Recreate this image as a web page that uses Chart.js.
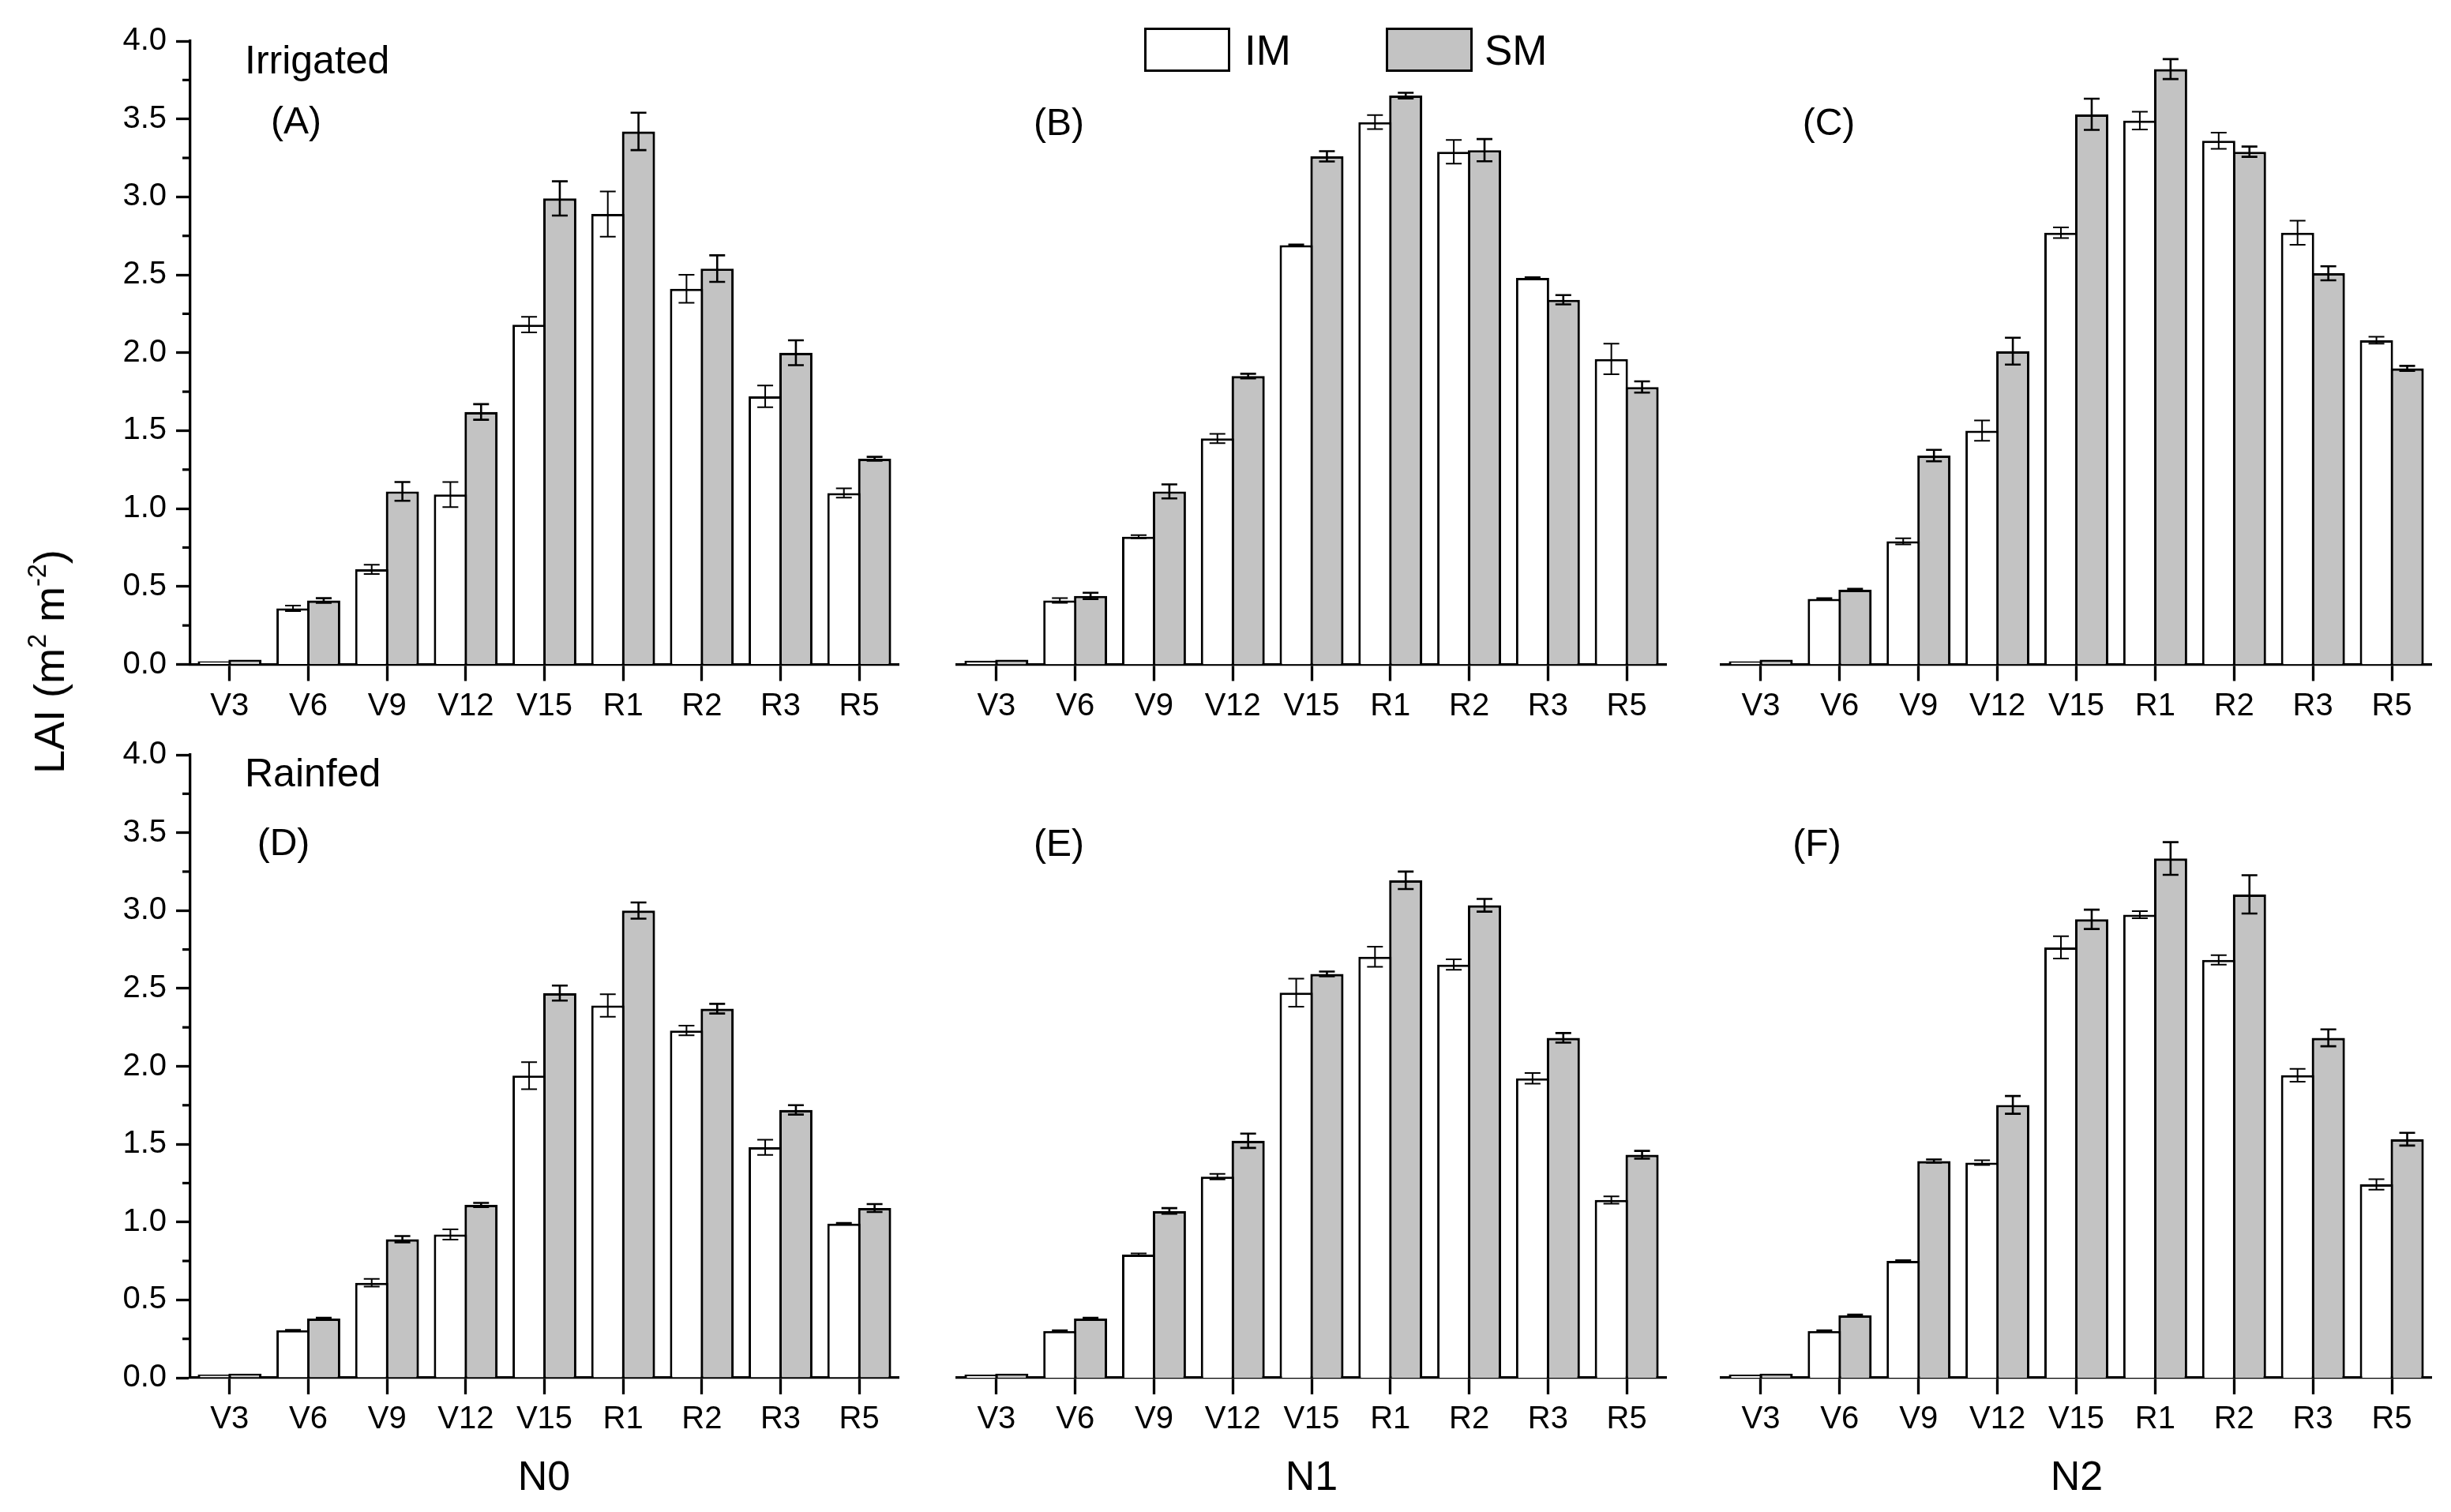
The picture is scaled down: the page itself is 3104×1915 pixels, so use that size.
<!DOCTYPE html>
<html><head><meta charset="utf-8">
<script src="https://cdn.jsdelivr.net/npm/chart.js@4.4.1/dist/chart.umd.min.js"></script>
<style>
html,body{margin:0;padding:0;background:#fff;}
#wrap{position:relative;width:3104px;height:1915px;background:#fff;overflow:hidden;font-family:"Liberation Sans",Arial,sans-serif;color:#000;}
canvas{position:absolute;}
.t{position:absolute;line-height:1;white-space:nowrap;}
.c{transform:translate(-50%,-50%);}
.l{transform:translateY(-50%);}
.box{position:absolute;box-sizing:border-box;border:3px solid #000;}
.sup{font-size:0.6em;position:relative;top:-0.7em;}
</style></head><body><div id="wrap">
<canvas id="cA" width="1160" height="920" style="left:0;top:0"></canvas>
<canvas id="cB" width="990" height="920" style="left:1160px;top:0"></canvas>
<canvas id="cC" width="954" height="920" style="left:2150px;top:0"></canvas>
<canvas id="cD" width="1160" height="920" style="left:0;top:920px"></canvas>
<canvas id="cE" width="990" height="920" style="left:1160px;top:920px"></canvas>
<canvas id="cF" width="954" height="920" style="left:2150px;top:920px"></canvas>

<div class="t l" style="left:310px;top:76px;font-size:50px">Irrigated</div>
<div class="t l" style="left:310px;top:979px;font-size:50px">Rainfed</div>
<div class="t c" style="left:375px;top:153px;font-size:48px">(A)</div>
<div class="t c" style="left:1341px;top:155px;font-size:48px">(B)</div>
<div class="t c" style="left:2316px;top:155px;font-size:48px">(C)</div>
<div class="t c" style="left:359px;top:1067px;font-size:48px">(D)</div>
<div class="t c" style="left:1341px;top:1068px;font-size:48px">(E)</div>
<div class="t c" style="left:2301px;top:1068px;font-size:48px">(F)</div>
<div class="t c" style="left:689px;top:1869px;font-size:52px">N0</div>
<div class="t c" style="left:1661px;top:1869px;font-size:52px">N1</div>
<div class="t c" style="left:2630px;top:1869px;font-size:52px">N2</div>
<div class="box" style="left:1449px;top:35px;width:109px;height:56px;background:#fff"></div>
<div class="t l" style="left:1576px;top:63px;font-size:53px">IM</div>
<div class="box" style="left:1755px;top:35px;width:110px;height:56px;background:#c3c3c3"></div>
<div class="t l" style="left:1880px;top:63px;font-size:53px">SM</div>
<div class="t" style="left:62px;top:838px;font-size:54px;transform:translate(-50%,-50%) rotate(-90deg)">LAI (m<span class="sup">2</span> m<span class="sup">-2</span>)</div>
</div>
<script>
const stages = ['V3','V6','V9','V12','V15','R1','R2','R3','R5'];
const yMinorTicks = [0.25,0.75,1.25,1.75,2.25,2.75,3.25,3.75];

// Irrigated N0 (A)
const imA = [0.02,0.36,0.61,1.09,2.18,2.89,2.41,1.72,1.10];
const smA = [0.03,0.41,1.11,1.62,2.99,3.42,2.54,2.00,1.32];
const imAErr = [0,0.018,0.03,0.08,0.05,0.145,0.09,0.07,0.03];
const smAErr = [0,0.015,0.06,0.05,0.11,0.12,0.085,0.08,0.012];
// Irrigated N1 (B)
const imB = [0.024,0.41,0.82,1.45,2.69,3.48,3.29,2.48,1.96];
const smB = [0.03,0.44,1.11,1.85,3.26,3.65,3.30,2.34,1.78];
const imBErr = [0,0.015,0.01,0.03,0.005,0.045,0.076,0.005,0.098];
const smBErr = [0,0.02,0.045,0.015,0.033,0.018,0.071,0.03,0.036];
// Irrigated N2 (C)
const imC = [0.02,0.42,0.79,1.50,2.77,3.49,3.36,2.77,2.08];
const smC = [0.03,0.48,1.34,2.01,3.53,3.82,3.29,2.51,1.90];
const imCErr = [0,0.005,0.02,0.065,0.034,0.057,0.052,0.077,0.022];
const smCErr = [0,0.005,0.037,0.086,0.10,0.064,0.033,0.045,0.016];
// Rainfed N0 (D)
const imD = [0.02,0.305,0.61,0.92,1.94,2.39,2.23,1.48,0.99];
const smD = [0.026,0.38,0.89,1.11,2.47,3.00,2.37,1.72,1.09];
const imDErr = [0,0.003,0.025,0.033,0.087,0.072,0.031,0.049,0.005];
const smDErr = [0,0.005,0.02,0.013,0.048,0.052,0.031,0.03,0.025];
// Rainfed N1 (E)
const imE = [0.02,0.30,0.79,1.29,2.47,2.70,2.65,1.92,1.14];
const smE = [0.026,0.38,1.07,1.52,2.59,3.19,3.03,2.18,1.43];
const imEErr = [0,0.005,0.008,0.018,0.09,0.064,0.033,0.034,0.023];
const smEErr = [0,0.005,0.018,0.046,0.015,0.056,0.041,0.031,0.025];
// Rainfed N2 (F)
const imF = [0.02,0.30,0.75,1.38,2.76,2.97,2.68,1.94,1.24];
const smF = [0.026,0.40,1.39,1.75,2.94,3.33,3.10,2.18,1.53];
const imFErr = [0,0.005,0.005,0.015,0.072,0.023,0.03,0.041,0.034];
const smFErr = [0,0.005,0.01,0.057,0.062,0.105,0.123,0.054,0.041];

const FONT = 'Liberation Sans';

const errorBars = {
  id: 'errorBars',
  afterDatasetsDraw(chart) {
    const ctx = chart.ctx, ys = chart.scales.y;
    chart.data.datasets.forEach((ds, i) => {
      const meta = chart.getDatasetMeta(i);
      ctx.save();
      ctx.strokeStyle = '#000';
      ctx.lineWidth = ds.errWidth;
      meta.data.forEach((bar, j) => {
        const e = ds.errors[j];
        if (!e) return;
        const v = ds.data[j];
        const yt = ys.getPixelForValue(v + e), yb = ys.getPixelForValue(v - e);
        const x = bar.x, hw = 10;
        ctx.beginPath();
        ctx.moveTo(x, yt); ctx.lineTo(x, yb);
        ctx.moveTo(x - hw, yt); ctx.lineTo(x + hw, yt);
        ctx.moveTo(x - hw, yb); ctx.lineTo(x + hw, yb);
        ctx.stroke();
      });
      ctx.restore();
    });
  }
};

const minorTicks = {
  id: 'minorTicks',
  afterDraw(chart, args, opts) {
    if (!opts || !opts.show) return;
    const ys = chart.scales.y, ctx = chart.ctx, x0 = chart.chartArea.left;
    ctx.save();
    ctx.strokeStyle = '#000';
    ctx.lineWidth = 3.2;
    yMinorTicks.forEach(v => {
      const py = ys.getPixelForValue(v);
      ctx.beginPath(); ctx.moveTo(x0 - 10, py); ctx.lineTo(x0, py); ctx.stroke();
    });
    ctx.restore();
  }
};

function makePanel(id, im, sm, imErr, smErr, showY, pad, axisH) {
  new Chart(document.getElementById(id), {
    type: 'bar',
    data: {
      labels: stages,
      datasets: [
        {label: 'IM', data: im, errors: imErr, errWidth: 2, backgroundColor: '#ffffff', borderColor: '#000', borderWidth: 3, categoryPercentage: 0.78, barPercentage: 1.08},
        {label: 'SM', data: sm, errors: smErr, errWidth: 2.6, backgroundColor: '#c3c3c3', borderColor: '#000', borderWidth: 3.2, categoryPercentage: 0.78, barPercentage: 1.08}
      ]
    },
    options: {
      responsive: false,
      animation: false,
      events: [],
      layout: {padding: pad},
      plugins: {legend: {display: false}, tooltip: {enabled: false}, minorTicks: {show: showY}},
      scales: {
        x: {
          type: 'category', offset: true,
          grid: {offset: false, drawOnChartArea: false, drawTicks: true, tickLength: 21, tickWidth: 3.3, tickColor: '#000'},
          border: {display: true, color: '#000', width: 3.3},
          ticks: {color: '#000', font: {family: FONT, size: 40}, padding: 8, maxRotation: 0, autoSkip: false},
          afterFit(s) { s.height = axisH; }
        },
        y: {
          min: 0, max: 4, display: showY,
          ticks: {stepSize: 0.5, color: '#000', font: {family: FONT, size: 40}, padding: 12, callback: v => Number(v).toFixed(1)},
          grid: {drawOnChartArea: false, drawTicks: true, tickLength: 18, tickWidth: 3.3, tickColor: '#000'},
          border: {display: true, color: '#000', width: 3.3},
          afterFit(s) { s.width = showY ? 241 : 0; }
        }
      }
    },
    plugins: [errorBars, minorTicks]
  });
}

// top row: chart area y 52..841.5 within canvas 0..920
makePanel('cA', imA, smA, imAErr, smAErr, true,  {left: 0,  right: 22, top: 52, bottom: 0}, 78.5);
makePanel('cB', imB, smB, imBErr, smBErr, false, {left: 52, right: 40, top: 52, bottom: 0}, 78.5);
makePanel('cC', imC, smC, imCErr, smCErr, false, {left: 30, right: 25, top: 52, bottom: 0}, 78.5);
// bottom row: chart area y 955..1745 within canvas 920..1840
makePanel('cD', imD, smD, imDErr, smDErr, true,  {left: 0,  right: 22, top: 35, bottom: 0}, 95);
makePanel('cE', imE, smE, imEErr, smEErr, false, {left: 52, right: 40, top: 35, bottom: 0}, 95);
makePanel('cF', imF, smF, imFErr, smFErr, false, {left: 30, right: 25, top: 35, bottom: 0}, 95);
</script>
</body></html>
